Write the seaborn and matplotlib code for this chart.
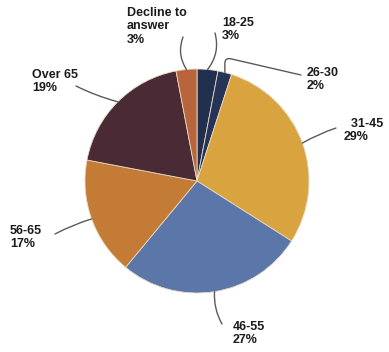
import numpy as np
import matplotlib
matplotlib.use("Agg")
import matplotlib.pyplot as plt
import seaborn as sns

# Age groups of respondents, clockwise from the top
categories = ["18-25", "26-30", "31-45", "46-55", "56-65", "Over 65", "Decline to\nanswer"]
shares = [3, 2, 29, 27, 17, 19, 3]
slice_colors = ["#22304f", "#27345a", "#d9a340", "#5b76a9", "#c47b36", "#4a2b35", "#b8643c"]

sns.set_theme(style="white")
plt.rcParams["font.family"] = ["Liberation Sans", "DejaVu Sans"]

W, H = 389, 352
fig = plt.figure(figsize=(W / 100, H / 100), dpi=100)
ax = fig.add_axes([0, 0, 1, 1])

cx, cy, r = 197, 181, 112
palette = sns.color_palette(slice_colors)
wedges, _ = ax.pie(shares, colors=palette, startangle=-90, counterclock=True,
                   center=(cx, cy), radius=r,
                   wedgeprops=dict(edgecolor="#e8d9c0", linewidth=0.6))
ax.set_xlim(0, W)
ax.set_ylim(H, 0)
ax.set_aspect("equal")
ax.axis("off")

# label block (left, top), leader start, connection style
layout = {
    "18-25": ((222, 17), (215, 33), "arc3,rad=-0.25"),
    "26-30": ((307, 67), (301, 75), "angle,angleA=167,angleB=90,rad=6"),
    "31-45": ((344, 118), (336, 128), "arc3,rad=0.05"),
    "46-55": ((233, 321), (222, 324), "arc3,rad=-0.15"),
    "56-65": ((10, 225), (55, 234), "arc3,rad=-0.05"),
    "Over 65": ((32, 69), (76, 86), "arc3,rad=0.05"),
    "Decline to\nanswer": ((127, 7), (183, 37), "arc3,rad=0.25"),
}

for w, name, pct in zip(wedges, categories, shares):
    mid = np.deg2rad((w.theta1 + w.theta2) / 2)
    tip = (cx + r * np.cos(mid), cy + r * np.sin(mid))
    (tx, ty), start, style = layout[name]
    label = f"{name}\n{pct}%"
    if name == "31-45":
        label = f"  {name}\n{pct}%"
    ax.text(tx, ty, label, ha="left", va="top", fontsize=9, fontweight="bold",
            color="#1b1b1b", linespacing=1.15)
    ax.annotate("", xy=tip, xytext=start,
                arrowprops=dict(arrowstyle="-", color="#5a5a5a", lw=1.0,
                                shrinkA=0, shrinkB=0, connectionstyle=style))

fig.savefig("out.png", dpi=100)
